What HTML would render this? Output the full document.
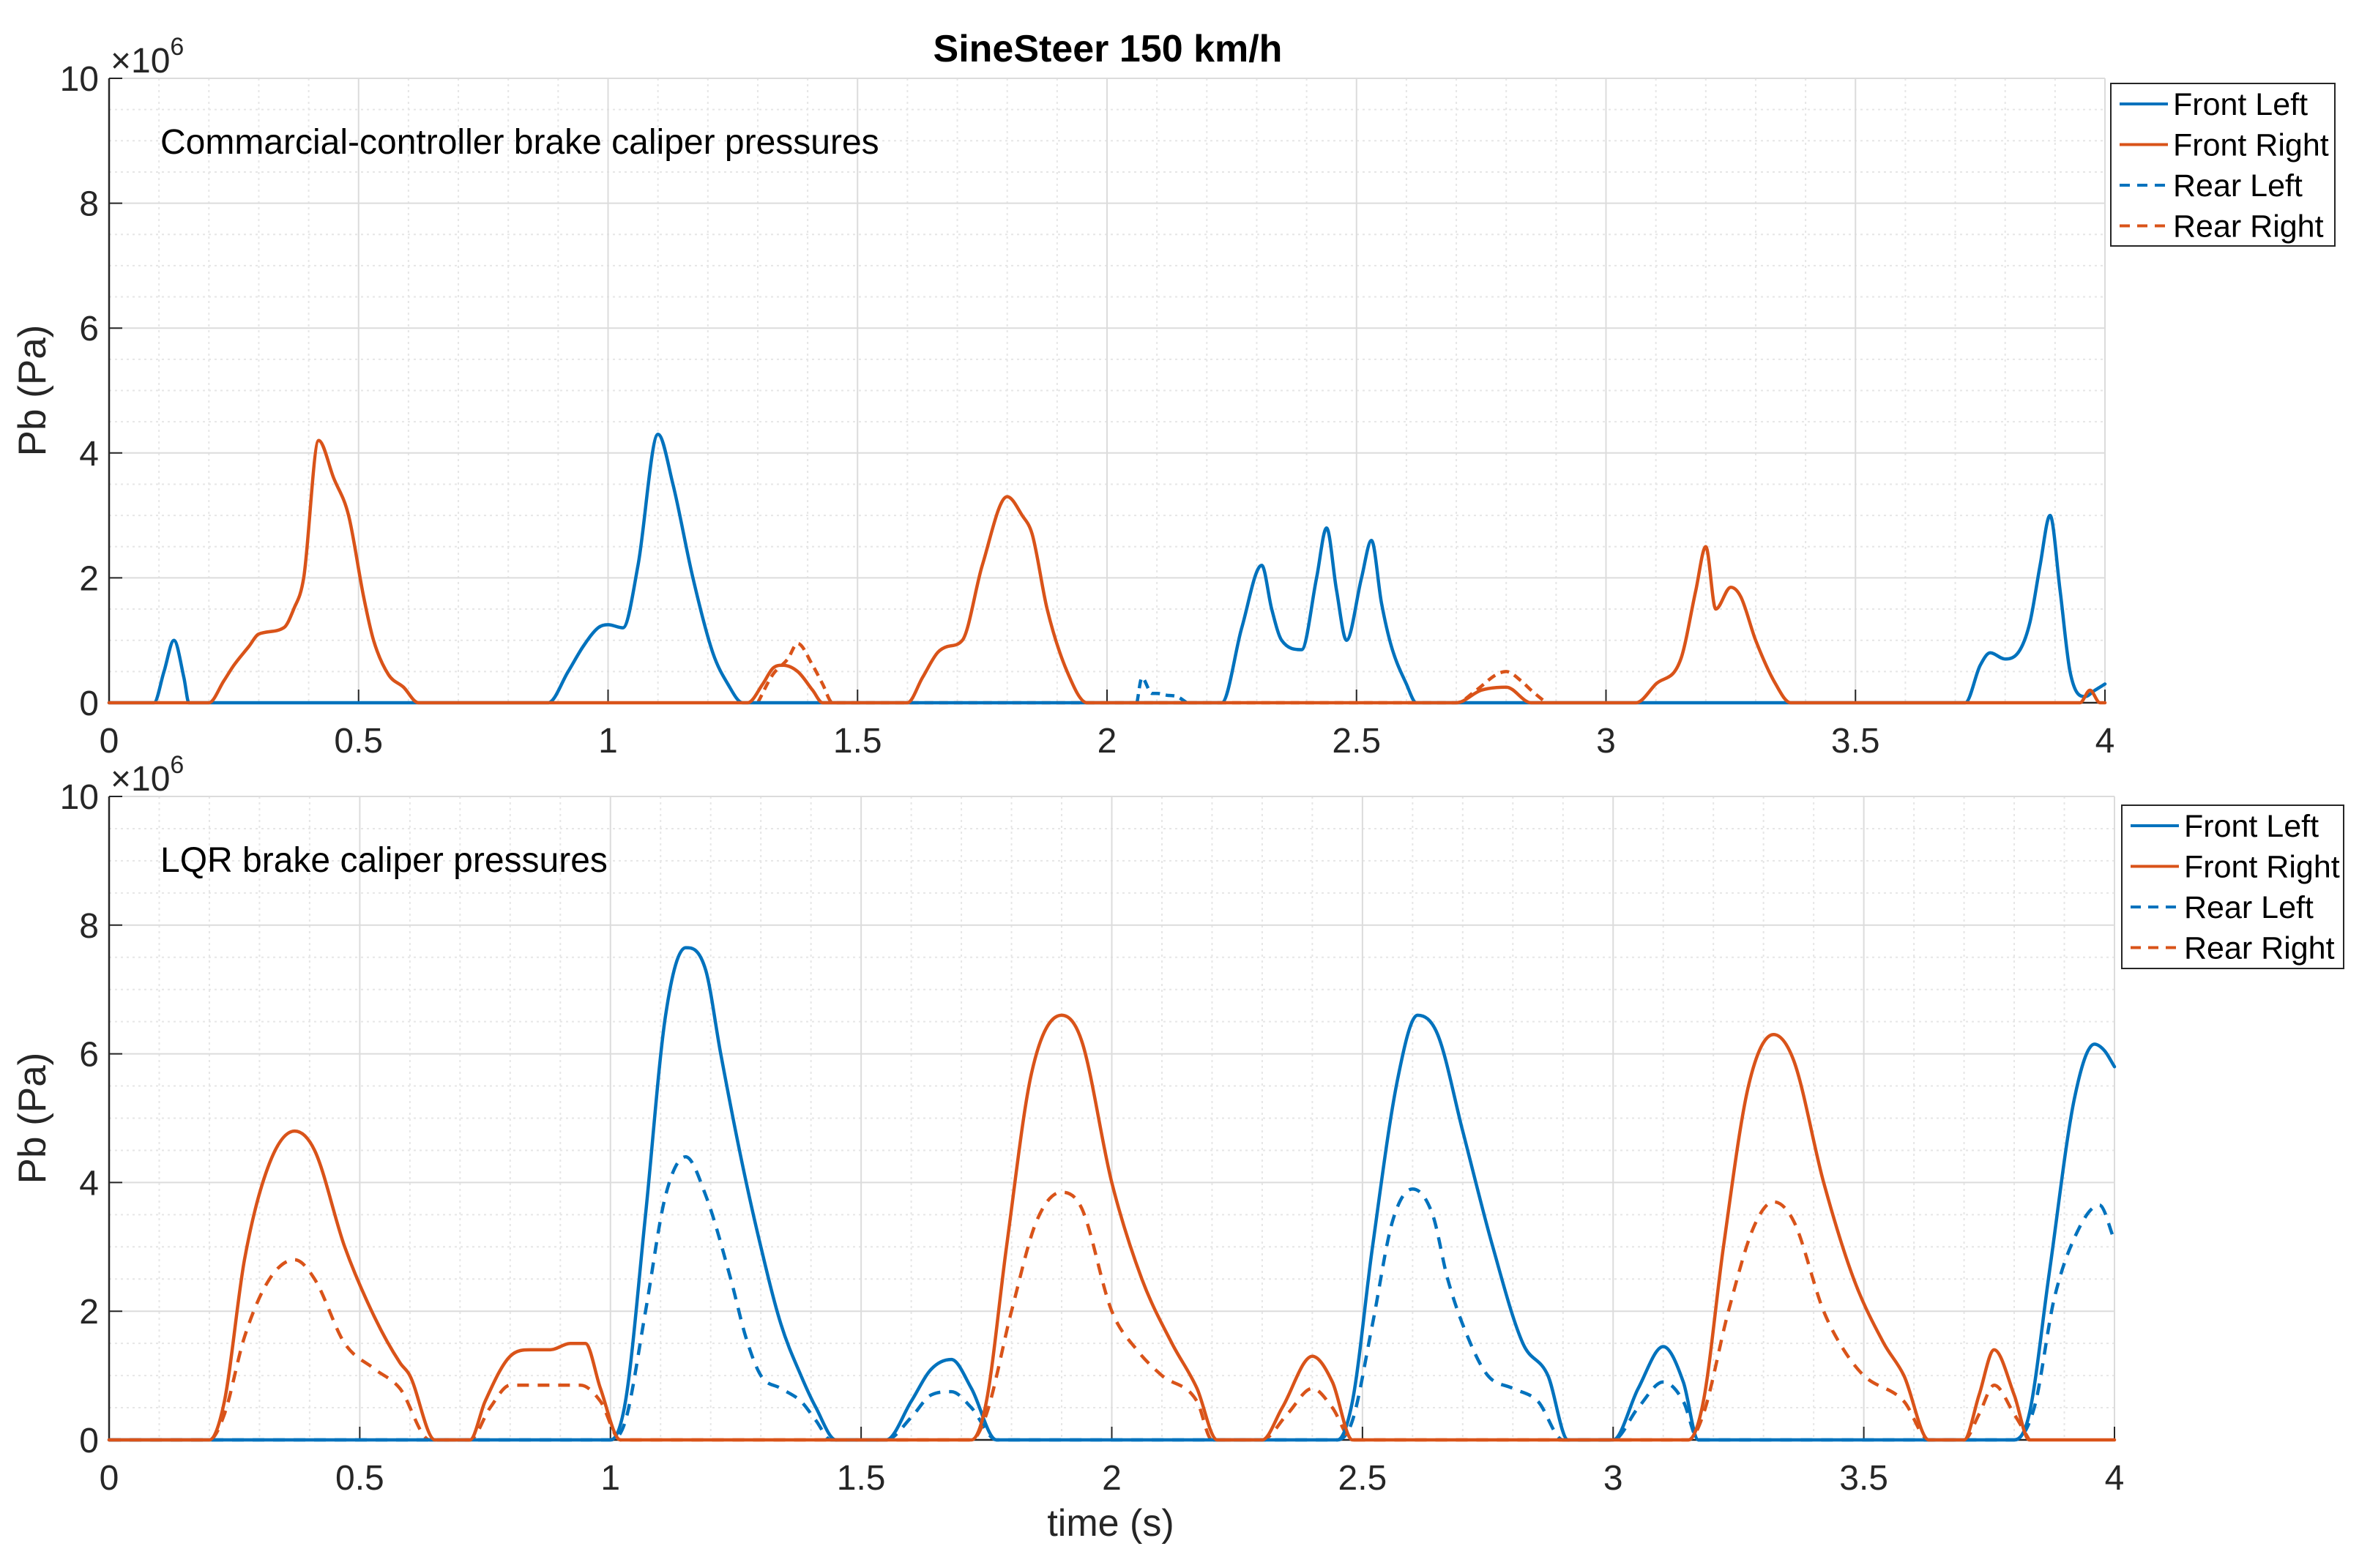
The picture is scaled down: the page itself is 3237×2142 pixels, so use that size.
<!DOCTYPE html>
<html><head><meta charset="utf-8">
<style>
html,body{margin:0;padding:0;background:#fff;}
svg{display:block;font-family:"Liberation Sans",Arial,sans-serif;}
</style></head>
<body>
<svg id="chart" width="3237" height="2142" viewBox="0 0 3237 2142" xmlns="http://www.w3.org/2000/svg"></svg>
<script>
// ---- Data (times in s, pressures in 1e6 Pa) ----
const xTicks = [0, 0.5, 1, 1.5, 2, 2.5, 3, 3.5, 4];
const xTickLabels = ["0", "0.5", "1", "1.5", "2", "2.5", "3", "3.5", "4"];
const yTicks = [0, 2, 4, 6, 8, 10];
const yTickLabels = ["0", "2", "4", "6", "8", "10"];
const legendLabels = ["Front Left", "Front Right", "Rear Left", "Rear Right"];

// Top: commercial controller
const topFL_t = [0,0.09,0.11,0.13,0.15,0.16,0.88,0.92,0.95,0.98,1.0,1.03,1.06,1.1,1.13,1.17,1.21,1.24,1.27,2.23,2.27,2.31,2.33,2.35,2.39,2.42,2.44,2.46,2.48,2.51,2.53,2.55,2.57,2.6,2.62,3.72,3.75,3.77,3.8,3.83,3.85,3.87,3.89,3.91,3.93,3.96,3.98,4.0];
const topFL_v = [0,0,0.5,1.0,0.4,0,0,0.5,0.9,1.2,1.25,1.2,2.2,4.3,3.5,2.0,0.8,0.3,0,0,1.2,2.2,1.5,1.0,0.85,2.0,2.8,1.8,1.0,2.0,2.6,1.6,0.9,0.3,0,0,0.6,0.8,0.7,0.85,1.3,2.2,3.0,1.8,0.5,0.1,0.2,0.3];
const topFR_t = [0,0.2,0.23,0.25,0.28,0.3,0.35,0.37,0.39,0.42,0.45,0.48,0.51,0.53,0.56,0.59,0.62,1.28,1.31,1.33,1.35,1.38,1.41,1.43,1.6,1.63,1.66,1.68,1.71,1.75,1.8,1.83,1.85,1.88,1.92,1.96,2.7,2.75,2.8,2.85,3.06,3.1,3.15,3.18,3.2,3.22,3.25,3.27,3.3,3.34,3.37,3.95,3.97,3.99,4.0];
const topFR_v = [0,0,0.35,0.6,0.9,1.1,1.2,1.5,2.0,4.2,3.6,3.0,1.7,1.0,0.45,0.25,0,0,0.3,0.55,0.6,0.5,0.2,0,0,0.4,0.8,0.9,1.0,2.2,3.3,3.0,2.7,1.5,0.5,0,0,0.2,0.25,0,0,0.3,0.7,1.8,2.5,1.5,1.85,1.7,1.0,0.3,0,0,0.2,0,0];
const topRL_t = [2.06,2.07,2.09,2.1,2.12,2.14,2.16];
const topRL_v = [0,0.4,0.15,0.15,0.12,0.1,0];
const topRR_t = [1.3,1.33,1.36,1.38,1.41,1.43,1.45,2.7,2.74,2.78,2.8,2.83,2.85,2.88];
const topRR_v = [0,0.45,0.7,0.95,0.6,0.3,0,0,0.2,0.45,0.5,0.35,0.2,0];

// Bottom: LQR
const botFL_t = [0,1.0,1.03,1.07,1.11,1.15,1.19,1.22,1.26,1.3,1.34,1.38,1.41,1.45,1.55,1.6,1.64,1.68,1.72,1.77,2.45,2.48,2.52,2.57,2.61,2.65,2.7,2.76,2.82,2.87,2.91,3.0,3.05,3.1,3.14,3.17,3.8,3.83,3.87,3.92,3.96,3.98,4.0];
const botFL_v = [0,0,0.6,3.5,6.6,7.65,7.3,6.0,4.4,3.0,1.8,1.0,0.5,0,0,0.6,1.1,1.25,0.8,0,0,0.6,3.0,5.6,6.6,6.3,4.8,3.0,1.5,1.0,0,0,0.8,1.45,0.9,0,0,0.4,2.6,5.3,6.15,6.05,5.8];
const botRL_t = [0,1.0,1.03,1.07,1.11,1.15,1.19,1.24,1.27,1.3,1.34,1.38,1.41,1.44,1.55,1.6,1.64,1.68,1.72,1.77,2.45,2.48,2.52,2.56,2.6,2.64,2.67,2.71,2.75,2.8,2.85,2.9,3.0,3.05,3.1,3.14,3.17,3.8,3.84,3.88,3.93,3.97,4.0];
const botRL_v = [0,0,0.3,2.0,3.8,4.4,3.8,2.5,1.6,1.0,0.8,0.6,0.3,0,0,0.35,0.7,0.75,0.5,0,0,0.3,1.8,3.4,3.9,3.5,2.5,1.6,1.0,0.8,0.6,0,0,0.5,0.9,0.6,0,0,0.5,2.2,3.3,3.65,3.1];
const botFR_t = [0,0.2,0.23,0.27,0.32,0.37,0.41,0.47,0.53,0.58,0.6,0.65,0.72,0.75,0.8,0.84,0.88,0.92,0.95,0.98,1.02,1.72,1.75,1.79,1.84,1.9,1.94,2.0,2.06,2.12,2.17,2.21,2.3,2.34,2.4,2.44,2.48,3.15,3.18,3.22,3.27,3.32,3.36,3.42,3.48,3.54,3.58,3.63,3.7,3.73,3.76,3.8,3.83,4.0];
const botFR_v = [0,0,0.6,2.8,4.3,4.8,4.5,3.0,1.9,1.2,1.0,0,0,0.6,1.3,1.4,1.4,1.5,1.5,0.8,0,0,0.6,3.0,5.7,6.6,6.2,4.0,2.5,1.5,0.8,0,0,0.5,1.3,0.9,0,0,0.6,3.0,5.5,6.3,5.9,4.0,2.5,1.5,1.0,0,0,0.7,1.4,0.7,0,0];
const botRR_t = [0,0.2,0.23,0.27,0.32,0.37,0.41,0.47,0.53,0.58,0.64,0.72,0.76,0.8,0.88,0.94,0.98,1.02,1.72,1.75,1.8,1.85,1.9,1.94,2.0,2.05,2.1,2.17,2.2,2.3,2.35,2.4,2.44,2.48,3.15,3.18,3.23,3.28,3.32,3.36,3.42,3.46,3.5,3.58,3.63,3.7,3.73,3.76,3.8,3.83];
const botRR_v = [0,0,0.4,1.6,2.5,2.8,2.5,1.5,1.1,0.8,0,0,0.5,0.85,0.85,0.85,0.6,0,0,0.4,2.0,3.4,3.85,3.6,2.0,1.4,1.0,0.6,0,0,0.4,0.8,0.5,0,0,0.4,2.0,3.3,3.7,3.4,2.0,1.4,1.0,0.6,0,0,0.4,0.85,0.4,0];

const NS = "http://www.w3.org/2000/svg";
const svg = document.getElementById("chart");
const C1 = "#0072BD", C2 = "#D95319";
function mk(tag, attrs, parent) {
  const e = document.createElementNS(NS, tag);
  for (const k in attrs) e.setAttribute(k, attrs[k]);
  (parent || svg).appendChild(e);
  return e;
}
function monotonePath(px, py) {
  const n = px.length; if (n < 2) return "";
  const d = [], m = new Array(n);
  for (let i = 0; i < n - 1; i++) d.push((py[i+1]-py[i])/((px[i+1]-px[i])||1e-9));
  m[0] = d[0]; m[n-1] = d[n-2];
  for (let i = 1; i < n - 1; i++) m[i] = (d[i-1]*d[i] <= 0) ? 0 : (d[i-1]+d[i])/2;
  for (let i = 0; i < n - 1; i++) {
    if (d[i] === 0) { m[i] = 0; m[i+1] = 0; continue; }
    const a = m[i]/d[i], b = m[i+1]/d[i], s = a*a+b*b;
    if (s > 9) { const t = 3/Math.sqrt(s); m[i] = t*a*d[i]; m[i+1] = t*b*d[i]; }
  }
  let p = "M" + px[0].toFixed(1) + "," + py[0].toFixed(1);
  for (let i = 0; i < n - 1; i++) {
    const h = (px[i+1]-px[i])/3;
    p += " C" + (px[i]+h).toFixed(1) + "," + (py[i]+m[i]*h).toFixed(1) + " " + (px[i+1]-h).toFixed(1) + "," + (py[i+1]-m[i+1]*h).toFixed(1) + " " + px[i+1].toFixed(1) + "," + py[i+1].toFixed(1);
  }
  return p;
}

function drawAxes(cfg) {
  const g = mk("g", {});
  
  
  const X = t => cfg.x0 + (t / 4) * (cfg.x1 - cfg.x0);
  const Y = v => cfg.y0 - (v / 10) * (cfg.y0 - cfg.y1);
  for (let i = 1; i < 40; i++) {
    if (i % 5 === 0) continue;
    const l = mk("line", {x1: X(i/10), x2: X(i/10), y1: cfg.y1, y2: cfg.y0, stroke: "#e6e6e6", "stroke-width": 2, "stroke-dasharray": "3,5"}, g);
    
    
  }
  for (let i = 1; i < 20; i++) {
    if (i % 4 === 0) continue;
    const l = mk("line", {x1: cfg.x0, x2: cfg.x1, y1: Y(i/2), y2: Y(i/2), stroke: "#e6e6e6", "stroke-width": 2, "stroke-dasharray": "3,5"}, g);
    
    
  }
  xTicks.forEach(t => {
    if (t === 0) return;
    const l = mk("line", {x1: X(t), x2: X(t), y1: cfg.y1, y2: cfg.y0, stroke: "#dcdcdc", "stroke-width": 2}, g);
    
    
  });
  yTicks.forEach(v => {
    if (v === 0) return;
    const l = mk("line", {x1: cfg.x0, x2: cfg.x1, y1: Y(v), y2: Y(v), stroke: "#dcdcdc", "stroke-width": 2}, g);
    
    
  });
  const ax = mk("line", {x1: cfg.x0, x2: cfg.x1, y1: cfg.y0, y2: cfg.y0, stroke: "#262626", "stroke-width": 2.5}, g);
  
  
  const ay = mk("line", {x1: cfg.x0, x2: cfg.x0, y1: cfg.y1, y2: cfg.y0, stroke: "#262626", "stroke-width": 2.5}, g);
  
  
  xTicks.forEach((t, i) => {
    const tk = mk("line", {x1: X(t), x2: X(t), y1: cfg.y0, y2: cfg.y0 - 18, stroke: "#262626", "stroke-width": 2}, g);
    
    
    const tx = mk("text", {x: X(t), y: cfg.y0 + 68, "text-anchor": "middle", "font-size": 48, fill: "#262626"}, g);
    tx.textContent = xTickLabels[i];
    
    
  });
  yTicks.forEach((v, i) => {
    const tk = mk("line", {x1: cfg.x0, x2: cfg.x0 + 18, y1: Y(v), y2: Y(v), stroke: "#262626", "stroke-width": 2}, g);
    
    
    const tx = mk("text", {x: cfg.x0 - 14, y: Y(v) + 17, "text-anchor": "end", "font-size": 48, fill: "#262626"}, g);
    tx.textContent = yTickLabels[i];
    
    
  });
  const ex = mk("text", {x: cfg.x0 + 2, y: cfg.y1 - 8, "font-size": 48, fill: "#262626"}, g);
  
  
  ex.innerHTML = '×10<tspan dy="-24" font-size="34">6</tspan>';
  const yl = mk("text", {x: 0, y: 0, transform: "translate(62," + ((cfg.y0 + cfg.y1) / 2) + ") rotate(-90)", "text-anchor": "middle", "font-size": 53, fill: "#262626"}, g);
  yl.textContent = "Pb (Pa)";
  
  
  const an = mk("text", {x: 219, y: cfg.annY, "font-size": 48, fill: "#000"}, g);
  an.textContent = cfg.annotation;
  
  
  cfg.series.forEach(s => {
    const px = s.t.map(X), py = s.v.map(Y);
    const d = monotonePath(px, py);
    const p = mk("path", {d: d, fill: "none", stroke: s.color, "stroke-width": cfg.lw, "stroke-linejoin": "round", "stroke-linecap": s.dash ? "butt" : "round"}, g);
    if (s.dash) p.setAttribute("stroke-dasharray", s.dash);
    
    
  });
  const lg = mk("g", {}, g);
  
  
  mk("rect", {x: cfg.leg.x, y: cfg.leg.y, width: cfg.leg.w, height: cfg.leg.h, fill: "#fff", stroke: "#262626", "stroke-width": 2}, lg);
  const colors = [C1, C2, C1, C2], dashes = [null, null, "14,10", "14,10"];
  legendLabels.forEach((lab, i) => {
    const yy = cfg.leg.y + 28 + i * 55.5;
    const e = mk("g", {}, lg);
    
    
    const l = mk("line", {x1: cfg.leg.x + 12, x2: cfg.leg.x + 78, y1: yy, y2: yy, stroke: colors[i], "stroke-width": 4}, e);
    if (dashes[i]) l.setAttribute("stroke-dasharray", dashes[i]);
    const tx = mk("text", {x: cfg.leg.x + 85, y: yy + 15, "font-size": 43, fill: "#000"}, e);
    tx.textContent = lab;
  });
}

drawAxes({
  name: "top-axes", x0: 149, x1: 2875, y0: 960, y1: 107, annY: 210, lw: 4.5,
  annotation: "Commarcial-controller brake caliper pressures",
  leg: {x: 2883, y: 114, w: 306, h: 222},
  series: [
    {name: "top-rear-left-line", t: topRL_t, v: topRL_v, color: C1, dash: "12,8"},
    {name: "top-rear-right-line", t: topRR_t, v: topRR_v, color: C2, dash: "12,8"},
    {name: "top-front-left-line", t: topFL_t, v: topFL_v, color: C1},
    {name: "top-front-right-line", t: topFR_t, v: topFR_v, color: C2}
  ]
});
drawAxes({
  name: "bottom-axes", x0: 149, x1: 2888, y0: 1967, y1: 1088, annY: 1191, lw: 4.5,
  annotation: "LQR brake caliper pressures",
  leg: {x: 2898, y: 1100, w: 303, h: 223},
  series: [
    {name: "bottom-rear-left-line", t: botRL_t, v: botRL_v, color: C1, dash: "16,12"},
    {name: "bottom-rear-right-line", t: botRR_t, v: botRR_v, color: C2, dash: "16,12"},
    {name: "bottom-front-left-line", t: botFL_t, v: botFL_v, color: C1},
    {name: "bottom-front-right-line", t: botFR_t, v: botFR_v, color: C2}
  ]
});

const title = mk("text", {x: 1513, y: 84, "text-anchor": "middle", "font-size": 52, "font-weight": "bold", fill: "#000"});
title.textContent = "SineSteer 150 km/h";


const xl = mk("text", {x: 1517, y: 2098, "text-anchor": "middle", "font-size": 52, fill: "#262626"});
xl.textContent = "time (s)";


</script>
</body></html>
